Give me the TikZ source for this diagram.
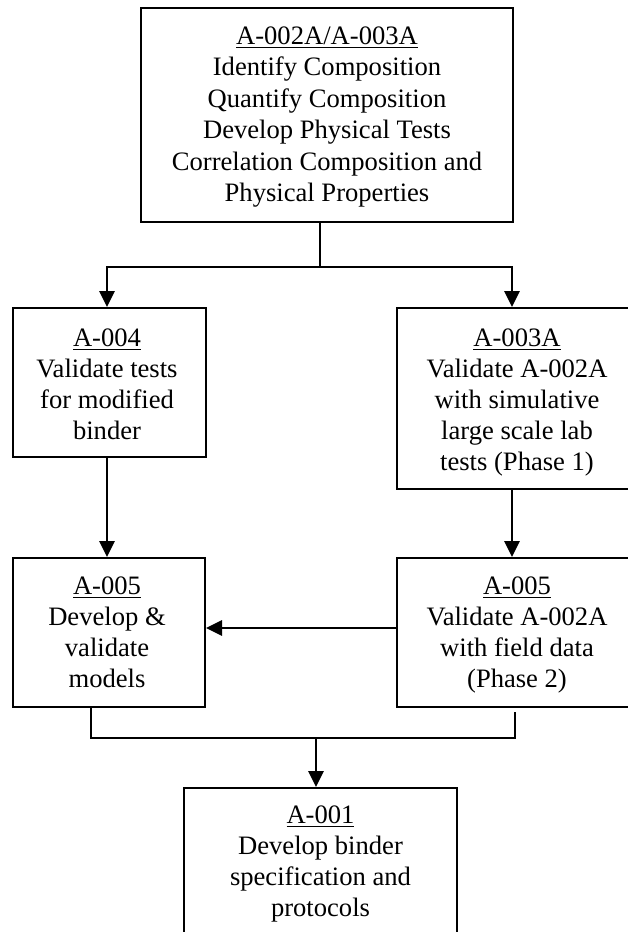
\documentclass[tikz,border=0pt]{standalone}
\usepackage{fontspec}
\setmainfont{Liberation Serif}
\usetikzlibrary{arrows.meta}
\newcommand{\myul}[1]{\setbox0\hbox{#1}\rlap{\rule[-3.5pt]{\wd0}{1pt}}\box0}
\begin{document}
\begin{tikzpicture}[x=1pt,y=-1pt,
  box/.style={draw=black, line width=2pt, rectangle, inner sep=0pt},
  txt/.style={align=center, font=\fontsize{26.6}{31}\selectfont, inner sep=0pt},
  line/.style={line width=2.5pt},
  arr/.style={line width=2.7pt, -{Triangle[length=16pt,width=15pt]}}]
\useasboundingbox (0,0) rectangle (628,932);
\clip (0,0) rectangle (628,932);
% boxes
\node[box, minimum width=372pt, minimum height=214pt] (top) at (327,115) {};
\node[box, minimum width=193pt, minimum height=149pt] (a4) at (109.5,382.5) {};
\node[box, minimum width=240pt, minimum height=181pt] (a3) at (517,398.5) {};
\node[box, minimum width=192pt, minimum height=149pt] (l5) at (109,632.5) {};
\node[box, minimum width=240pt, minimum height=149pt] (r5) at (517,632.5) {};
\node[box, minimum width=273pt, minimum height=200pt, anchor=north] (bot) at (320.5,787) {};
% texts
\node[txt, font=\fontsize{26.6}{31.5}\selectfont] (topt) at (327,117)
  {\myul{A-002A/A-003A}\\Identify Composition\\Quantify Composition\\Develop Physical Tests\\Correlation Composition and\\Physical Properties};
\node[txt] (a4t) at (107,384) {\myul{A-004}\\Validate tests\\for modified\\binder};
\node[txt] (a3t) at (517,402) {\myul{A-003A}\\Validate A-002A\\with simulative\\large scale lab\\tests (Phase 1)};
\node[txt] (l5t) at (107,632) {\myul{A-005}\\Develop \&\\validate\\models};
\node[txt] (r5t) at (517,634.5) {\myul{A-005}\\Validate A-002A\\with field data\\(Phase 2)};
\node[txt] (bott) at (320.5,863.5) {\myul{A-001}\\Develop binder\\specification and\\protocols};
% connectors
\coordinate (j1) at (320,267);
\coordinate (j2) at (316,738);
\draw[line] (j1 |- top.south) -- (j1);
\draw[arr] (j1) -| ([xshift=-2.5pt]a4.north);
\draw[arr] (j1) -| ([xshift=-5pt]a3.north);
\draw[arr] ([xshift=-2.5pt]a4.south) -- ([xshift=-2pt]l5.north);
\draw[arr] ([xshift=-5pt]a3.south) -- ([xshift=-5pt]r5.north);
\draw[arr] ([yshift=4.5pt]r5.west) -- ([yshift=4.5pt]l5.east);
\draw[line] ([xshift=-18pt]l5.south) |- (j2) -| ([xshift=-2pt,yshift=-4pt]r5.south);
\draw[arr] (j2) -- (j2 |- bot.north);
\end{tikzpicture}
\end{document}
